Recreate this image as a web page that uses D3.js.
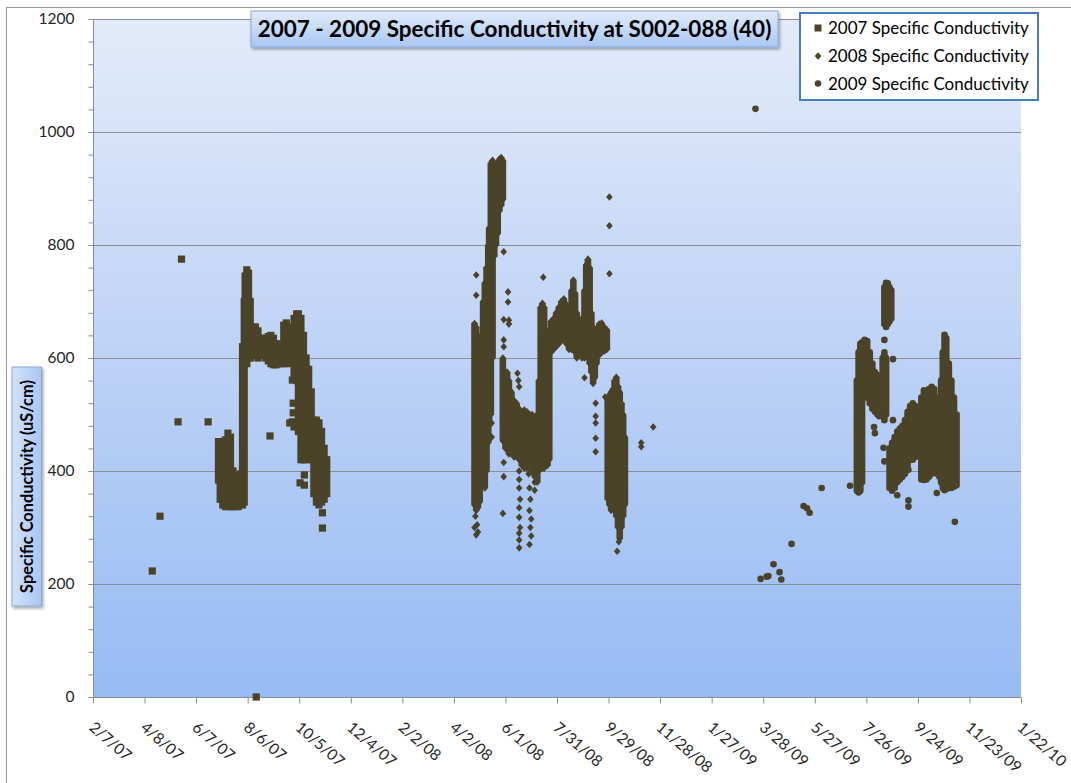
<!DOCTYPE html>
<html><head><meta charset="utf-8">
<script src="https://cdn.jsdelivr.net/npm/d3@7"></script>
<style>body{margin:0;background:#fff} svg{display:block} text{font-family:Lato,"Open Sans",sans-serif}</style>
</head><body><svg id="c" width="1071" height="783"></svg>
<script>
// ---------------- data ----------------
const titleText = "2007 - 2009 Specific Conductivity at S002-088 (40)";
const yAxisTitle = "Specific Conductivity (uS/cm)";
const seriesNames = ["2007 Specific Conductivity", "2008 Specific Conductivity", "2009 Specific Conductivity"];
const xTickLabels = ["2/7/07","4/8/07","6/7/07","8/6/07","10/5/07","12/4/07","2/2/08","4/2/08","6/1/08","7/31/08","9/29/08","11/28/08","1/27/09","3/28/09","5/27/09","7/26/09","9/24/09","11/23/09","1/22/10"];
const yTickValues = [0,200,400,600,800,1000,1200];

// entries: [date, value] for single readings, [date, low, high] for the span of readings on that date
const cond2007 = [
 ["4/17/07",223],["4/26/07",320],["5/17/07",487],["5/21/07",775],["6/21/07",487],
 ["7/3/07",384,452],["7/5/07",350,452],["7/8/07",340,440],["7/11/07",337,455],["7/14/07",337,467],
 ["7/17/07",337,460],["7/20/07",337,400],["7/23/07",337,388],["7/26/07",337,392],["7/29/07",340,395],
 ["7/31/07",340,620],["8/2/07",345,700],["8/3/07",600,745],["8/5/07",590,756],["8/7/07",600,750],["8/9/07",600,700],
 ["8/12/07",605,650],["8/15/07",605,655],["8/18/07",600,648],["8/21/07",605,635],["8/24/07",605,625],
 ["8/27/07",600,635],["8/30/07",595,638],["9/2/07",590,640],["9/5/07",588,635],["9/8/07",588,625],
 ["9/11/07",590,615],["9/14/07",590,625],["9/17/07",590,658],["9/20/07",595,662],["9/23/07",590,655],
 ["9/26/07",595,650],["9/29/07",570,670],["10/2/07",560,678],["10/4/07",470,678],["10/7/07",420,670],
 ["10/10/07",420,640],["10/13/07",420,600],["10/16/07",430,580],["10/19/07",420,540],["10/22/07",360,490],
 ["10/25/07",345,490],["10/28/07",340,485],["10/31/07",345,470],["11/3/07",350,440],["11/6/07",360,420],
 ["8/16/07",0],["9/1/07",462],["9/24/07",485],["9/27/07",561],["9/28/07",520],["9/28/07",503],
 ["9/27/07",487],["9/29/07",478],["10/6/07",379],["10/11/07",393],["10/11/07",375],["11/1/07",326],["11/1/07",299]
];

const cond2008 = [
 ["4/26/08",340,661],["4/28/08",330,655],["4/30/08",335,640],["5/2/08",345,600],["5/4/08",370,580],
 ["4/26/08",300],["4/27/08",320],["4/28/08",287],["4/29/08",305],["4/30/08",292],["4/28/08",747],["4/28/08",711],
 ["5/6/08",380,700],["5/8/08",370,733],["5/10/08",400,760],["5/12/08",450,800],["5/13/08",480,830],
 ["5/15/08",500,945],["5/17/08",600,950],["5/19/08",780,940],["5/21/08",800,925],["5/23/08",820,945],
 ["5/25/08",860,952],["5/27/08",870,955],["5/29/08",880,950],
 ["5/15/08",530],["5/15/08",515],["5/16/08",485],["5/16/08",460],
 ["5/30/08",788],["6/4/08",717],["6/4/08",699],["5/30/08",668],["6/5/08",667],["6/5/08",660],["5/30/08",632],["5/30/08",620],
 ["5/29/08",538],["5/29/08",453],["5/30/08",415],["5/30/08",390],["5/29/08",325],
 ["5/29/08",455,600],["6/1/08",440,570],["6/3/08",440,575],["6/5/08",430,560],["6/8/08",430,540],
 ["6/11/08",425,525],["6/14/08",425,520],["6/17/08",420,510],["6/20/08",410,505],["6/23/08",405,508],
 ["6/26/08",405,505],["6/29/08",410,500],["7/2/08",400,500],["7/5/08",390,495],["7/8/08",380,500],
 ["6/15/08",573],["6/16/08",560],["6/17/08",549],
 ["6/17/08",400],["6/17/08",385],["6/17/08",370],["6/18/08",350],["6/17/08",335],["6/17/08",318],
 ["6/18/08",300],["6/17/08",290],["6/17/08",278],["6/17/08",264],
 ["6/28/08",410],["6/28/08",395],["6/29/08",370],["6/30/08",350],["6/29/08",330],["7/1/08",315],
 ["6/30/08",300],["7/1/08",285],["6/29/08",270],["7/4/08",395],["7/5/08",380],["7/5/08",366],
 ["7/10/08",400,560],["7/12/08",405,690],["7/14/08",405,697],["7/16/08",405,690],["7/18/08",410,640],
 ["7/20/08",410,625],["7/22/08",420,650],["7/15/08",743],
 ["7/24/08",610,665],["7/27/08",615,670],["7/30/08",620,680],["8/2/08",625,690],["8/5/08",630,700],
 ["8/8/08",632,705],["8/11/08",625,695],["8/14/08",615,690],["8/17/08",615,720],["8/19/08",615,738],
 ["8/21/08",610,715],["8/23/08",600,680],["8/26/08",605,665],["8/29/08",600,670],["9/1/08",600,720],
 ["9/3/08",605,765],["9/5/08",610,775],["9/7/08",590,760],["9/9/08",575,680],["9/11/08",555,655],
 ["9/13/08",565,650],["9/15/08",590,645],["9/18/08",605,660],["9/21/08",610,662],["9/24/08",612,655],
 ["9/27/08",615,650],
 ["9/1/08",565],["9/30/08",885],["9/30/08",834],["9/30/08",749],
 ["9/14/08",520],["9/14/08",497],["9/14/08",485],["9/14/08",458],["9/14/08",434],["9/25/08",531],
 ["9/28/08",350,530],["9/30/08",340,535],["10/2/08",330,540],["10/4/08",335,545],["10/6/08",330,560],
 ["10/8/08",320,566],["10/10/08",300,550],["10/12/08",280,540],["10/14/08",300,520],["10/16/08",320,500],
 ["10/18/08",340,460],["10/9/08",258],["10/11/08",275],
 ["11/6/08",450],["11/6/08",443],["11/20/08",478]
];

const cond2009 = [
 ["3/19/09",1041],["3/25/09",209],["4/1/09",213],["4/3/09",214],["4/9/09",235],["4/16/09",221],["4/18/09",208],
 ["4/30/09",271],["5/14/09",338],["5/18/09",334],["5/21/09",326],["6/4/09",370],["7/7/09",374],
 ["7/15/09",365,560],["7/17/09",362,610],["7/19/09",365,625],["7/21/09",380,628],["7/24/09",530,632],
 ["7/27/09",530,630],["7/30/09",520,610],["8/2/09",510,590],["8/5/09",505,575],["8/8/09",500,570],
 ["8/11/09",500,560],["8/14/09",505,600],["8/16/09",490,610],["8/18/09",500,600],
 ["8/16/09",660,725],["8/18/09",655,733],["8/20/09",660,732],["8/22/09",665,725],["8/24/09",670,720],
 ["8/16/09",632],["8/26/09",598],["8/26/09",490],["8/4/09",478],["8/5/09",467],["8/10/09",497],
 ["8/22/09",370,440],["8/25/09",365,450],["8/28/09",370,460],["8/31/09",380,470],["9/3/09",385,475],
 ["9/6/09",390,480],["9/9/09",395,490],["9/12/09",410,505],["9/15/09",420,515],["9/18/09",420,520],
 ["9/21/09",425,515],["9/24/09",430,505],
 ["8/31/09",357],["9/13/09",348],["9/13/09",337],["9/13/09",402],["8/15/09",441],["8/16/09",417],
 ["9/28/09",385,530],["10/1/09",384,543],["10/4/09",385,540],["10/7/09",390,545],["10/10/09",395,549],
 ["10/13/09",400,545],["10/16/09",395,530],["10/19/09",390,500],["10/21/09",380,560],["10/23/09",370,610],
 ["10/25/09",366,641],["10/27/09",368,635],["10/30/09",370,590],["11/2/09",370,560],["11/5/09",372,530],
 ["11/8/09",375,500],["10/16/09",361],["11/6/09",310]
];

// ---------------- chart ----------------
const svg = d3.select("#c");
const M = {left:93, right:1021, top:19, bottom:697};
const markerColor = "#4b4327";
const parse = d3.timeParse("%m/%d/%y");
const x = d3.scaleTime()
  .domain([parse(xTickLabels[0]), parse(xTickLabels[xTickLabels.length-1])])
  .range([M.left, M.right]);
const y = d3.scaleLinear().domain([0, 1200]).range([M.bottom, M.top]);

const defs = svg.append("defs");
const g1 = defs.append("linearGradient").attr("id","plotBg").attr("x1",0).attr("y1",0).attr("x2",0).attr("y2",1);
g1.append("stop").attr("offset","0%").attr("stop-color","#e3ebfa");
g1.append("stop").attr("offset","50%").attr("stop-color","#bdd2f6");
g1.append("stop").attr("offset","100%").attr("stop-color","#97bbf4");
const g2 = defs.append("linearGradient").attr("id","boxBg").attr("x1",0).attr("y1",0).attr("x2",0).attr("y2",1);
g2.append("stop").attr("offset","0%").attr("stop-color","#e2ecfc");
g2.append("stop").attr("offset","100%").attr("stop-color","#a9c6f3");
const g3 = defs.append("linearGradient").attr("id","boxBgV").attr("x1",0).attr("y1",0).attr("x2",1).attr("y2",0);
g3.append("stop").attr("offset","0%").attr("stop-color","#d3e2fa");
g3.append("stop").attr("offset","100%").attr("stop-color","#a9c6f3");
const sh = defs.append("filter").attr("id","shadow").attr("x","-10%").attr("y","-10%").attr("width","130%").attr("height","160%");
sh.append("feDropShadow").attr("dx",1.5).attr("dy",2).attr("stdDeviation",1.5).attr("flood-color","#000").attr("flood-opacity",0.35);

// chart area border
svg.append("rect").attr("x",6.5).attr("y",7.5).attr("width",1200).attr("height",900)
  .attr("fill","#fff").attr("stroke","#9a9a9a").attr("stroke-width",1);

// plot area
svg.append("rect").attr("x",M.left).attr("y",M.top).attr("width",M.right-M.left).attr("height",M.bottom-M.top)
  .attr("fill","url(#plotBg)");

// gridlines
svg.append("g").selectAll("line").data(yTickValues.filter(v => v > 0)).join("line")
  .attr("x1",M.left).attr("x2",M.right).attr("y1",d => Math.round(y(d))+0.5).attr("y2",d => Math.round(y(d))+0.5)
  .attr("stroke","#8a8e96").attr("stroke-width",1);

// y axis minor ticks
const yMinor = svg.append("g").attr("transform",`translate(${M.left+0.5},0)`)
  .call(d3.axisLeft(y).tickValues(d3.range(0,1201,40)).tickSize(5).tickFormat(""));
yMinor.select(".domain").remove();
yMinor.selectAll("line").attr("stroke","#8c8c8c");

// y axis
const yAx = svg.append("g").attr("transform",`translate(${M.left+0.5},0)`)
  .call(d3.axisLeft(y).tickValues(yTickValues).tickSize(5).tickPadding(14).tickFormat(d3.format("d")));
yAx.select(".domain").attr("stroke","#8c8c8c").attr("d",`M0,${M.top}V${M.bottom}`);
yAx.selectAll("line").attr("stroke","#8c8c8c");
yAx.selectAll("text").attr("font-family","Lato").attr("font-size",15.5).attr("fill","#262626");

// x axis
const xAx = svg.append("g").attr("transform",`translate(0,${M.bottom+0.5})`)
  .call(d3.axisBottom(x).tickValues(xTickLabels.map(parse)).tickSize(6)
    .tickFormat((d,i) => xTickLabels[i]));
xAx.select(".domain").attr("stroke","#8c8c8c").attr("d",`M${M.left},0H${M.right}`);
xAx.selectAll("line").attr("stroke","#8c8c8c");
xAx.selectAll("text").attr("font-family","Lato").attr("font-size",15.5).attr("fill","#262626")
  .attr("text-anchor","start").attr("x",0).attr("y",0).attr("dy","0.72em")
  .attr("transform","translate(2,23) rotate(41)");

// marks
const plot = svg.append("g");
function hiOf(d){ return d.length > 2 ? d[2] : d[1]; }
// 2007 squares
plot.append("g").selectAll("rect").data(cond2007).join("rect")
  .attr("x", d => x(parse(d[0])) - 3.6)
  .attr("y", d => y(hiOf(d)) - 3.6)
  .attr("width", 7.2)
  .attr("height", d => y(d[1]) - y(hiOf(d)) + 7.2)
  .attr("fill", markerColor);
// 2008 diamonds
plot.append("g").selectAll("path").data(cond2008).join("path")
  .attr("d", d => {
    const cx = x(parse(d[0])), hi = y(hiOf(d)), lo = y(d[1]), w = 3.3, h = 3.8;
    return `M${cx},${hi-h}L${cx+w},${hi}L${cx+w},${lo}L${cx},${lo+h}L${cx-w},${lo}L${cx-w},${hi}Z`;
  })
  .attr("fill", markerColor);
// 2009 circles
plot.append("g").selectAll("rect").data(cond2009).join("rect")
  .attr("x", d => x(parse(d[0])) - 3.3)
  .attr("y", d => y(hiOf(d)) - 3.3)
  .attr("width", 6.6)
  .attr("height", d => y(d[1]) - y(hiOf(d)) + 6.6)
  .attr("rx", 3.3)
  .attr("fill", markerColor);

function fit(sel, target){
  const n = sel.node(); const fs = parseFloat(sel.attr("font-size"));
  const w = n.getComputedTextLength();
  sel.attr("font-size", (fs * target / w).toFixed(2));
}

// title
svg.append("rect").attr("x",251).attr("y",11).attr("width",527).attr("height",36)
  .attr("fill","url(#boxBg)").attr("stroke","#8ea8d2").attr("stroke-width",1).attr("filter","url(#shadow)");
const tt = svg.append("text").attr("x",514.5).attr("y",29).attr("dy","0.36em").attr("text-anchor","middle")
  .attr("font-weight","bold").attr("font-size",20).attr("fill","#000").text(titleText);
fit(tt, 514);

// y axis title
svg.append("rect").attr("x",12).attr("y",367).attr("width",29.5).attr("height",239)
  .attr("fill","url(#boxBgV)").attr("stroke","#8ea8d2").attr("stroke-width",1).attr("filter","url(#shadow)");
const yt = svg.append("text").attr("transform","translate(27,486.5) rotate(-90)").attr("dy","0.36em")
  .attr("text-anchor","middle").attr("font-weight","bold").attr("font-size",14).attr("fill","#000").text(yAxisTitle);
fit(yt, 213);

// legend
svg.append("rect").attr("x",800).attr("y",13).attr("width",238).attr("height",87)
  .attr("fill","#fff").attr("stroke","#4a7ebb").attr("stroke-width",2);
const legY = [28, 56, 83.5];
const lg = svg.append("g");
seriesNames.forEach((name, i) => {
  const t = lg.append("text").attr("x",828).attr("y",legY[i]).attr("dy","0.36em")
    .attr("font-size",15).attr("fill","#000").text(name);
  fit(t, 201);
});
const lx = 818;
lg.append("rect").attr("x",lx-3.5).attr("y",legY[0]-3.5).attr("width",7).attr("height",7).attr("fill",markerColor);
lg.append("path").attr("d",`M${lx},${legY[1]-3.8}L${lx+3.3},${legY[1]}L${lx},${legY[1]+3.8}L${lx-3.3},${legY[1]}Z`).attr("fill",markerColor);
lg.append("circle").attr("cx",lx).attr("cy",legY[2]).attr("r",3.3).attr("fill",markerColor);
</script>
</body></html>
